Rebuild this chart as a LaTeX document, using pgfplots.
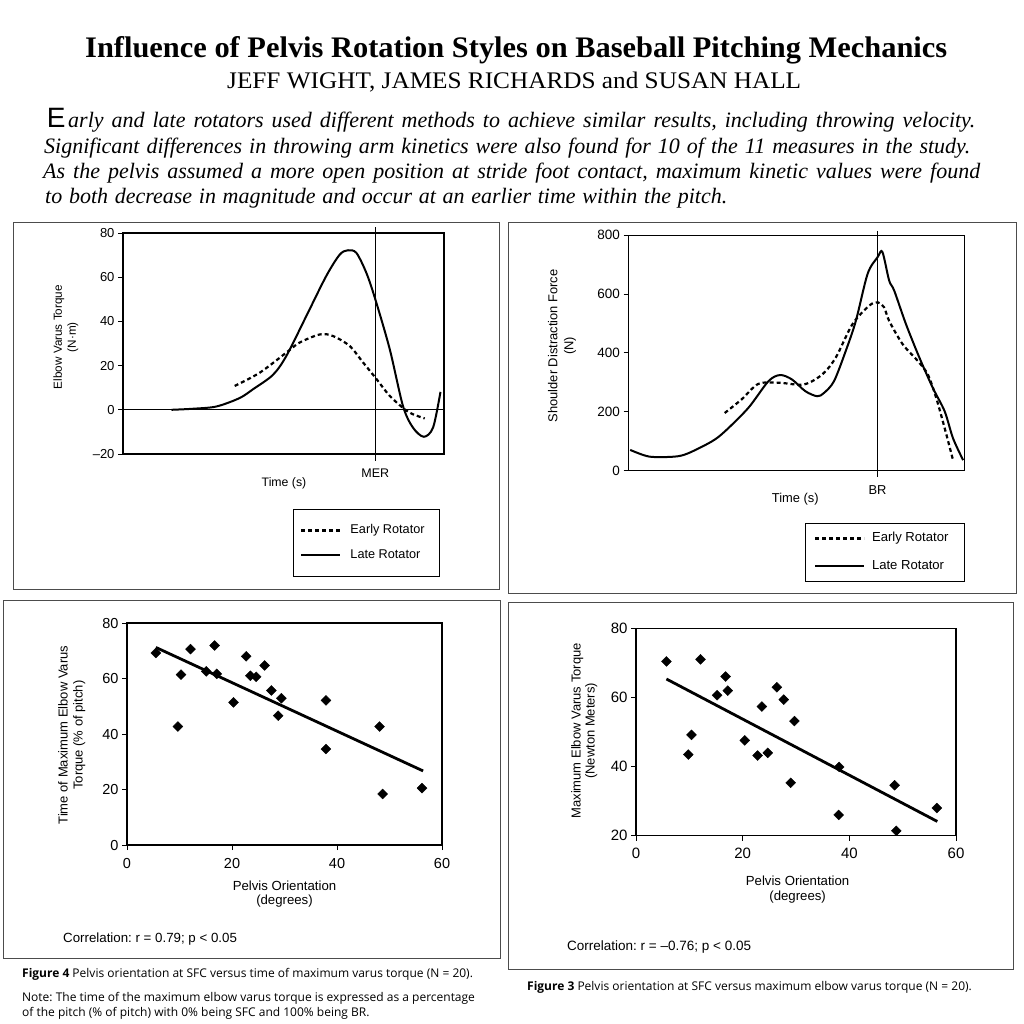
\documentclass[border=0pt]{standalone}
\usepackage{fontspec}
\setmainfont{Liberation Serif}
\setsansfont{Liberation Sans}
\newfontfamily\capfont{Open Sans}
\usepackage{graphicx}
\usepackage{pgfplots}
\pgfplotsset{compat=1.18}

\newcommand\fs[2]{\fontsize{#1bp}{#2bp}\selectfont}

\pgfplotsset{
  pan/.style={
    scale only axis, clip=false, anchor=south west,
    axis line style={line width=1.1bp},
    tick style={line width=1bp, black},
    major tick length=5bp,
    tick align=outside, tick pos=left,
    /pgf/number format/assume math mode=true,
    legend cell align=left,
  },
  early/.style={black, line width=2.2bp, dash pattern=on 4bp off 3bp, smooth, no markers},
  late/.style={black, line width=2bp, smooth, no markers},
  pts/.style={only marks, mark=square*, mark size=3.5bp, mark options={rotate=45, fill=black, draw=black}},
  fit/.style={black, line width=2.8bp, no markers},
}

\begin{document}
\frenchspacing
\begin{tikzpicture}[x=1bp,y=-1bp]
\path[use as bounding box] (0,0) rectangle (1024,1024);

% header
\node[anchor=base west, inner sep=0] at (85,57)
  {\resizebox{862bp}{21bp}{\fs{30}{32}\bfseries Influence of Pelvis Rotation Styles on Baseball Pitching Mechanics}};
\node[anchor=base west, inner sep=0] at (227,88)
  {\resizebox{574bp}{16.5bp}{\fs{24}{26}JEFF WIGHT, JAMES RICHARDS and SUSAN HALL}};
\node[anchor=base west, inner sep=0] at (46.7,127) {\sffamily\fs{28}{30}E};
\node[anchor=base west, inner sep=0] at (68,127)
  {\makebox[907bp][s]{\itshape\fs{22}{25}arly and late rotators used different methods to achieve similar results, including throwing velocity.}};
\node[anchor=base west, inner sep=0] at (44,153)
  {\makebox[926bp][s]{\itshape\fs{22}{25}Significant differences in throwing arm kinetics were also found for 10 of the 11 measures in the study.}};
\node[anchor=base west, inner sep=0] at (43,178)
  {\makebox[937bp][s]{\itshape\fs{22}{25}As the pelvis assumed a more open position at stride foot contact, maximum kinetic values were found}};
\node[anchor=base west, inner sep=0] at (45,203)
  {\makebox[682bp][s]{\itshape\fs{22}{25}to both decrease in magnitude and occur at an earlier time within the pitch.}};

% panel frames
\draw[line width=1bp, black!70] (13,222) rectangle (499,589);
\draw[line width=1bp, black!70] (508,222) rectangle (1016,593);
\draw[line width=1bp, black!70] (3,600) rectangle (500,958);
\draw[line width=1bp, black!70] (508,602) rectangle (1013,969);

% panel 1: elbow varus torque
\begin{axis}[pan, at={(123bp,-454bp)}, width=321bp, height=221bp,
  xmin=0, xmax=100, ymin=-20, ymax=80, xtick=\empty,
  ytick={-20,0,20,40,60,80}, yticklabels={\textendash20,0,20,40,60,80},
  tick label style={font=\sffamily\fs{13}{13}},
  xlabel={Time (s)},
  xlabel style={at={(axis description cs:0.5016,0)}, anchor=center, yshift=-29bp, font=\sffamily\fs{12.3}{14}},
  ylabel={Elbow Varus Torque\\(N·m)},
  ylabel style={at={(axis description cs:-0.178,0.529)}, anchor=center, align=center, font=\sffamily\fs{11.7}{14}},
  legend style={at={(axis description cs:0.9875,-0.2475)}, anchor=north east, draw=black, line width=1bp,
    font=\sffamily\fs{12.7}{14}, inner xsep=7bp, inner ysep=15bp, row sep=12.5bp, column sep=9bp,
    nodes={inner sep=0bp, text height=9.5bp, text depth=3bp}},
  legend image code/.code={\draw[#1] (0bp,0bp) -- (39bp,0bp);},
]
\addplot[black, line width=1bp, forget plot] coordinates {(0,0) (100,0)};
\addplot[early] coordinates {
  (34.8,10.8) (42.6,16.8) (50.9,25.9) (55.0,30.4) (61.3,34.1) (65.4,33.4)
  (70.6,28.9) (74.8,21.4) (78.6,14.6) (83.1,6.3) (87.7,0.3) (90.3,-2) (94.0,-3.9)};
\addlegendentry{\makebox[82bp][l]{Early Rotator}}
\addplot[late] coordinates {
  (15.1,0) (22,0.5) (29.1,1.5) (36.3,5.3) (40.5,9.3) (46.7,15.8) (50.9,24.4)
  (57.1,42.4) (63.3,60.5) (67.5,70.2) (70.1,72.2) (72.7,71) (75.8,62) (78.6,50)
  (83.1,27.4) (87.2,1.8) (90.3,-8) (93.7,-12.2) (96.6,-8) (98.9,8.1)};
\addlegendentry{\makebox[82bp][l]{Late Rotator}}
\addplot[black, line width=1.1bp, forget plot] coordinates {(78.6,82.7) (78.6,-23.2)};
\node[font=\sffamily\fs{12.5}{14}] at (axis cs:78.6,-20) [yshift=-19bp] {MER};
\end{axis}

% panel 2: shoulder distraction force
\begin{axis}[pan, at={(628.5bp,-470.7bp)}, width=336.3bp, height=235.5bp,
  xmin=0, xmax=100, ymin=0, ymax=800, xtick=\empty,
  ytick={0,200,400,600,800},
  tick label style={font=\sffamily\fs{13.5}{13.5}},
  xlabel={Time (s)},
  xlabel style={at={(axis description cs:0.496,0)}, anchor=center, yshift=-28.6bp, font=\sffamily\fs{12.9}{14}},
  ylabel={Shoulder Distraction Force\\(N)},
  ylabel style={at={(axis description cs:-0.198,0.530)}, anchor=center, align=center, font=\sffamily\fs{12.9}{16}},
  legend style={at={(axis description cs:1,-0.221)}, anchor=north east, draw=black, line width=1bp,
    font=\sffamily\fs{13.1}{14}, inner xsep=8.3bp, inner ysep=9bp, row sep=15.3bp, column sep=6.7bp,
    nodes={inner sep=0bp, text height=9.5bp, text depth=3bp}},
  legend image code/.code={\draw[#1] (0bp,0bp) -- (49bp,0bp);},
]
\addplot[early] coordinates {
  (28.6,196) (33.6,242) (38.6,295) (44.6,299) (52.1,293) (57.6,327) (61.6,384)
  (66.6,498) (71.6,561) (74.1,572) (76.0,555) (77.5,509) (81.5,430) (86.0,373)
  (89.0,327) (91.5,247) (94.0,145) (96.5,36)};
\addlegendentry{\makebox[84bp][l]{Early Rotator}}
\addplot[late] coordinates {
  (0.5,70.7) (6.2,47.9) (13.7,47.9) (17.7,59) (24.7,99) (28.6,133) (35.6,213)
  (41.6,304) (45.1,325) (48.6,310) (52.6,270) (56.1,253) (58.1,264) (61.1,304)
  (64.6,407) (67.6,509) (71.1,669) (74.1,726) (75.5,743) (77.5,646) (79.0,612)
  (82.5,498) (86.5,384) (90.5,281) (94.0,202) (96.5,110) (99.5,36)};
\addlegendentry{\makebox[84bp][l]{Late Rotator}}
\addplot[black, line width=1.1bp, forget plot] coordinates {(74.05,815) (74.05,-20.7)};
\node[font=\sffamily\fs{12.9}{14}] at (axis cs:74.05,0) [yshift=-19.5bp] {BR};
\end{axis}

% panel 3: time of maximum elbow varus torque
\begin{axis}[pan, at={(127bp,-845bp)}, width=315bp, height=222bp,
  xmin=0, xmax=60, ymin=0, ymax=80,
  xtick={0,20,40,60}, ytick={0,20,40,60,80},
  tick label style={font=\sffamily\fs{14.5}{14.5}},
  xticklabel style={yshift=-5bp},
  xlabel={Pelvis Orientation\\(degrees)},
  xlabel style={at={(axis description cs:0.5,0)}, anchor=center, yshift=-49bp, align=center, font=\sffamily\fs{13.2}{14.5}},
  ylabel={Time of Maximum Elbow Varus\\Torque (\% of pitch)},
  ylabel style={at={(axis description cs:-0.175,0.495)}, anchor=center, align=center, font=\sffamily\fs{13}{15}},
]
\addplot[pts] coordinates {
  (5.5,69.2) (10.3,61.4) (9.7,42.7) (12.1,70.6) (15.1,62.6) (16.7,71.9) (17.1,61.7)
  (20.3,51.4) (22.7,68.0) (23.5,61.0) (24.6,60.6) (26.2,64.7) (27.5,55.7) (29.4,52.9)
  (28.8,46.6) (37.9,52.1) (37.9,34.6) (48.1,42.7) (48.7,18.4) (56.2,20.5)};
\addplot[fit] coordinates {(5.5,71.2) (56.4,26.7)};
\end{axis}

% panel 4: maximum elbow varus torque
\begin{axis}[pan, at={(636bp,-835.6bp)}, width=320bp, height=207bp,
  xmin=0, xmax=60, ymin=20, ymax=80,
  xtick={0,20,40,60}, ytick={20,40,60,80},
  tick label style={font=\sffamily\fs{15}{15}},
  xticklabel style={yshift=-4bp},
  xlabel={Pelvis Orientation\\(degrees)},
  xlabel style={at={(axis description cs:0.505,0)}, anchor=center, yshift=-53.5bp, align=center, font=\sffamily\fs{13.2}{15}},
  ylabel={Maximum Elbow Varus Torque\\(Newton Meters)},
  ylabel style={at={(axis description cs:-0.162,0.506)}, anchor=center, align=center, font=\sffamily\fs{13}{14}},
]
\addplot[pts] coordinates {
  (5.7,70.5) (12.1,71.1) (9.8,43.5) (10.4,49.2) (15.2,60.7) (16.8,66.1) (17.2,62.0)
  (20.4,47.6) (22.8,43.2) (23.6,57.4) (24.7,44.0) (26.4,63.0) (27.7,59.4) (29.7,53.2)
  (29.0,35.3) (38.1,39.9) (38.0,26.0) (48.5,34.6) (48.8,21.4) (56.4,28.0)};
\addplot[fit] coordinates {(5.7,65.4) (56.5,24.1)};
\end{axis}

% correlations and captions
\node[anchor=base west, inner sep=0, font=\sffamily\fs{13.3}{15}] at (63,942.5) {Correlation: r = 0.79; p < 0.05};
\node[anchor=base west, inner sep=0, font=\sffamily\fs{13.5}{15}] at (567,950.5) {Correlation: r = \textendash0.76; p < 0.05};
\node[anchor=base west, inner sep=0, font=\capfont\fs{12}{14}] at (22,977)
  {\textbf{Figure 4} Pelvis orientation at SFC versus time of maximum varus torque (N = 20).};
\node[anchor=base west, inner sep=0, font=\capfont\fs{12}{14}] at (22,1001)
  {Note: The time of the maximum elbow varus torque is expressed as a percentage};
\node[anchor=base west, inner sep=0, font=\capfont\fs{12}{14}] at (22,1016)
  {of the pitch (\% of pitch) with 0\% being SFC and 100\% being BR.};
\node[anchor=base west, inner sep=0, font=\capfont\fs{12}{14}] at (527,990)
  {\textbf{Figure 3} Pelvis orientation at SFC versus maximum elbow varus torque (N = 20).};
\end{tikzpicture}
\end{document}
